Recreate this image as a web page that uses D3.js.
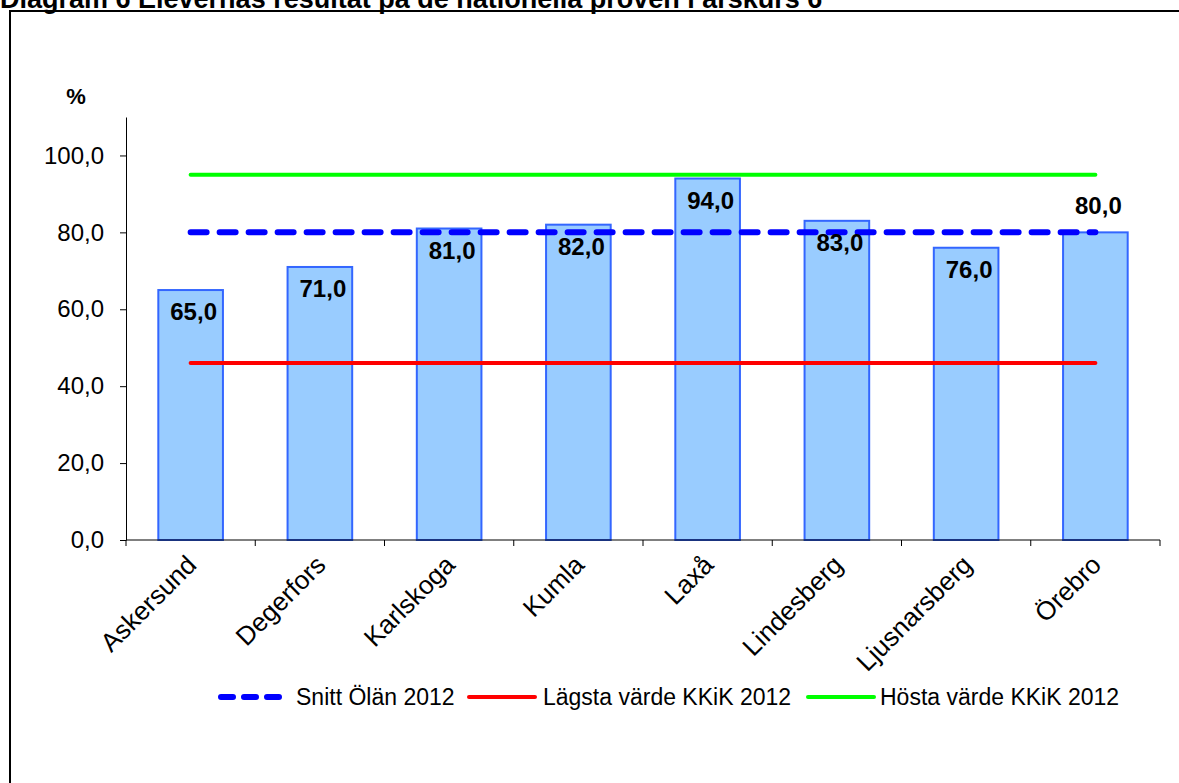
<!DOCTYPE html>
<html><head><meta charset="utf-8">
<script src="https://cdn.jsdelivr.net/npm/d3@7"></script>
<style>body{margin:0;background:#fff}svg{display:block;font-family:"Liberation Sans",Arial,sans-serif}</style>
</head><body>
<svg id="c" width="1179" height="783"></svg>
<script>
const titleText = "Diagram 6 Elevernas resultat på de nationella proven i årskurs 6";
const categories = ["Askersund","Degerfors","Karlskoga","Kumla","Laxå","Lindesberg","Ljusnarsberg","Örebro"];
const values = [65,71,81,82,94,83,76,80];
const snittValues = [80,80,80,80,80,80,80,80];
const lagstaValues = [46,46,46,46,46,46,46,46];
const hostaValues = [95,95,95,95,95,95,95,95];
const yTicks = [0,20,40,60,80,100];
const seriesNames = ["Snitt Ölän 2012","Lägsta värde KKiK 2012","Hösta värde KKiK 2012"];
const outsideLabels = new Set(["Örebro"]);

const svg = d3.select("#c");
const fmt = v => d3.format(".1f")(v).replace(".", ",");

// frame and title
svg.append("rect").attr("x",10).attr("y",11).attr("width",1200).attr("height",800)
  .attr("fill","none").attr("stroke","#000").attr("stroke-width",2);
svg.append("text").attr("x",0).attr("y",8).attr("font-size",27).attr("font-weight","bold").text(titleText);

const x = d3.scaleBand().domain(categories).range([126,1160]).paddingInner(0.5).paddingOuter(0.25);
const y = d3.scaleLinear().domain([0,110]).range([540,117]);

// bars
svg.append("g").selectAll("rect").data(values).join("rect")
  .attr("x",(d,i)=>x(categories[i])).attr("y",d=>y(d))
  .attr("width",x.bandwidth()).attr("height",d=>y(0)-y(d))
  .attr("fill","#99CCFF").attr("stroke","#3366FF").attr("stroke-width",2);

// axes
const yAxis = svg.append("g").attr("transform","translate(126,0)")
  .call(d3.axisLeft(y).tickValues(yTicks).tickFormat(fmt).tickSize(6).tickPadding(16).tickSizeOuter(0));
yAxis.select(".domain").attr("stroke","#000");
yAxis.selectAll("text").attr("font-size",24).attr("fill","#000").attr("font-family","Liberation Sans, Arial");

const xAxisG = svg.append("g").attr("transform","translate(0,540)");
xAxisG.append("line").attr("x1",126).attr("x2",1160).attr("y1",0).attr("y2",0).attr("stroke","#000");
const bounds = d3.range(categories.length+1).map(i => x.range()[0] + i*x.step());
xAxisG.selectAll("line.t").data(bounds).join("line").attr("class","t")
  .attr("x1",d=>d).attr("x2",d=>d).attr("y1",0).attr("y2",6).attr("stroke","#000");
xAxisG.selectAll("text").data(categories).join("text")
  .attr("transform",d=>`translate(${x(d)+x.bandwidth()/2+1},${20}) rotate(-45)`)
  .attr("text-anchor","end").attr("dy","0.35em").attr("font-size",26).text(d=>d);

// lines
const cx = d => x(d)+x.bandwidth()/2;
const line = arr => d3.line().x((d,i)=>cx(categories[i])).y(d=>y(d))(arr);
svg.append("path").attr("d",line(hostaValues)).attr("fill","none").attr("stroke","#00FF00").attr("stroke-width",4).attr("stroke-linecap","round");
svg.append("path").attr("d",line(lagstaValues)).attr("fill","none").attr("stroke","#FF0000").attr("stroke-width",4).attr("stroke-linecap","round");
svg.append("path").attr("d",line(snittValues)).attr("fill","none").attr("stroke","#0000FF").attr("stroke-width",6)
  .attr("stroke-dasharray","16,13").attr("stroke-linecap","round");

// labels
svg.append("g").selectAll("text").data(values).join("text")
  .attr("x",(d,i)=>cx(categories[i])+3)
  .attr("y",(d,i)=>outsideLabels.has(categories[i]) ? y(d)-27 : y(d)+22)
  .attr("dy","0.35em").attr("text-anchor","middle").attr("font-size",24).attr("font-weight","bold").text(fmt);

// y unit
svg.append("text").attr("x",76).attr("y",96).attr("text-anchor","middle").attr("dy","0.35em")
  .attr("font-size",22).attr("font-weight","bold").text("%");

// legend
const lg = svg.append("g");
const ly = 697;
lg.append("line").attr("x1",221).attr("x2",290).attr("y1",ly).attr("y2",ly).attr("stroke","#0000FF").attr("stroke-width",6)
  .attr("stroke-dasharray","12,11").attr("stroke-linecap","round");
lg.append("text").attr("x",296).attr("y",ly).attr("dy","0.35em").attr("font-size",23).text(seriesNames[0]);
lg.append("line").attr("x1",469).attr("x2",535).attr("y1",ly).attr("y2",ly).attr("stroke","#FF0000").attr("stroke-width",4).attr("stroke-linecap","round");
lg.append("text").attr("x",543).attr("y",ly).attr("dy","0.35em").attr("font-size",23).text(seriesNames[1]);
lg.append("line").attr("x1",808).attr("x2",874).attr("y1",ly).attr("y2",ly).attr("stroke","#00FF00").attr("stroke-width",4).attr("stroke-linecap","round");
lg.append("text").attr("x",880).attr("y",ly).attr("dy","0.35em").attr("font-size",23).text(seriesNames[2]);
</script>
</body></html>
